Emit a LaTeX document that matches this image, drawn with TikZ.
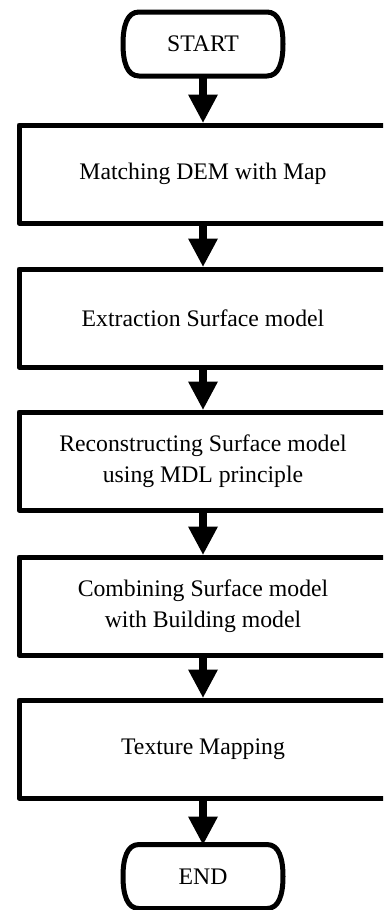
\documentclass[tikz,border=0pt]{standalone}
\usepackage{fontspec}
\setmainfont{Liberation Serif}
\usetikzlibrary{arrows.meta,calc}
\begin{document}
\begin{tikzpicture}[x=0.75pt,y=-0.75pt,
  every node/.style={font=\fontsize{17.8pt}{23pt}\selectfont, inner sep=0pt},
  stepbox/.style={draw, line width=3.75pt, line join=round, outer sep=1.875pt,
    minimum width=276pt, minimum height=73.5pt, align=center},
  terminal/.style={outer sep=0pt, minimum width=120pt, minimum height=48pt},
  termline/.style={line width=3.75pt, line join=round},
  flow/.style={line width=6pt, -{Triangle[width=22.5pt,length=21pt,line width=0pt]}}
]
\clip (0,0) rectangle (383,910);

% terminals
\node[terminal] (start) at (203,44) {START};
\node[terminal] (end) at (203,876.5) {END};

% outline of a terminal: flat top and bottom, bulging rounded sides
\foreach \t in {start,end}{
  \draw[termline]
    ($(\t.north west)+(16,0)$) -- ($(\t.north east)+(-16,0)$)
    .. controls +(12,0) and ($(\t.east)+(0,-18)$) .. (\t.east)
    .. controls ($(\t.east)+(0,18)$) and ($(\t.south east)+(-4,0)$) .. ($(\t.south east)+(-16,0)$)
    -- ($(\t.south west)+(16,0)$)
    .. controls +(-12,0) and ($(\t.west)+(0,18)$) .. (\t.west)
    .. controls ($(\t.west)+(0,-18)$) and ($(\t.north west)+(4,0)$) .. cycle;
}

% process steps
\node[stepbox] (s1) at (203,174) {Matching DEM with Map};
\node[stepbox] (s2) at (203,318) {Extraction Surface model};
\node[stepbox] (s3) at (203,461) {Reconstructing Surface model\\using MDL principle};
\node[stepbox] (s4) at (203,606) {Combining Surface model\\with Building model};
\node[stepbox] (s5) at (203,749) {Texture Mapping};

% connectors
\draw[flow] (start) -- (s1);
\draw[flow] (s1) -- (s2);
\draw[flow] (s2) -- (s3);
\draw[flow] (s3) -- (s4);
\draw[flow] (s4) -- (s5);
\draw[flow] (s5) -- (end);
\end{tikzpicture}
\end{document}
